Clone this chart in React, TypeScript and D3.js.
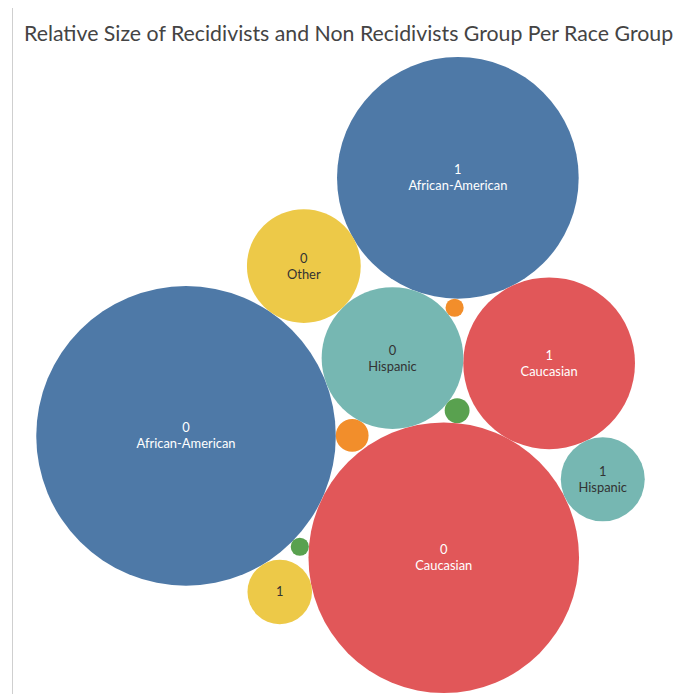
import React, { useMemo } from "react";
import * as d3 from "d3";

// Record counts per race, split by recidivism flag (0 = non recidivist, 1 = recidivist)
const races = ["African-American", "Asian", "Caucasian", "Hispanic", "Native American", "Other"];
const groups = ["0", "1"];
const nonRecidivistCounts = [2176, 26, 1775, 487, 15, 314];
const recidivistCounts = [1416, 8, 715, 171, 8, 101];

// Tableau 10 colours, assigned to races in alphabetical order
const raceColors = ["#4e79a7", "#f28e2b", "#e15759", "#76b7b2", "#59a14f", "#edc948"];
const raceLabelColors = ["#ffffff", "#ffffff", "#ffffff", "#333333", "#ffffff", "#333333"];

const TITLE = "Relative Size of Recidivists and Non Recidivists Group Per Race Group";

// Packing sequence: each bubble sits tangent to two bubbles placed before it,
// on the given side of the line joining them.
const packOrder: [string, string, string, number][] = [
  ["Hispanic|0", "African-American|0", "Caucasian|0", -1],
  ["Asian|0", "African-American|0", "Hispanic|0", 1],
  ["Caucasian|1", "Hispanic|0", "Caucasian|0", -1],
  ["African-American|1", "Hispanic|0", "Caucasian|1", -1],
  ["Other|0", "African-American|0", "Hispanic|0", -1],
  ["Hispanic|1", "Caucasian|1", "Caucasian|0", -1],
  ["Other|1", "African-American|0", "Caucasian|0", 1],
  ["Native American|0", "Hispanic|0", "Caucasian|0", -1],
  ["Asian|1", "Hispanic|0", "African-American|1", 1],
  ["Native American|1", "African-American|0", "Caucasian|0", 1],
];
const firstPair = ["African-American|0", "Caucasian|0"];
const firstPairAngle = 25.3; // degrees, clockwise from horizontal

const W = 681;
const H = 694;
const area = { left: 0, right: W, top: 57, bottom: 693 };

type Bubble = {
  key: string;
  race: string;
  raceIndex: number;
  group: string;
  value: number;
  r: number;
  x: number;
  y: number;
};

function placeTangent(a: Bubble, b: Bubble, r: number, side: number) {
  const dx = b.x - a.x;
  const dy = b.y - a.y;
  const d = Math.hypot(dx, dy);
  const da = a.r + r;
  const db = b.r + r;
  const t = (da * da - db * db + d * d) / (2 * d);
  const h = Math.sqrt(Math.max(0, da * da - t * t));
  const ux = dx / d;
  const uy = dy / d;
  return { x: a.x + t * ux - side * h * uy, y: a.y + t * uy + side * h * ux };
}

function useBubbles() {
  return useMemo(() => {
    const rows: Bubble[] = [];
    races.forEach((race, i) => {
      [nonRecidivistCounts[i], recidivistCounts[i]].forEach((value, g) => {
        rows.push({
          key: `${race}|${groups[g]}`,
          race,
          raceIndex: i,
          group: groups[g],
          value,
          r: 0,
          x: 0,
          y: 0,
        });
      });
    });
    const maxValue = d3.max(rows, (d) => d.value) as number;
    const unitR = d3.scaleSqrt().domain([0, maxValue]).range([0, 1]);
    rows.forEach((d) => (d.r = unitR(d.value)));
    const byKey = new Map(rows.map((d) => [d.key, d]));

    const a = byKey.get(firstPair[0])!;
    const b = byKey.get(firstPair[1])!;
    const ang = (firstPairAngle * Math.PI) / 180;
    a.x = 0;
    a.y = 0;
    b.x = (a.r + b.r) * Math.cos(ang);
    b.y = (a.r + b.r) * Math.sin(ang);
    packOrder.forEach(([k, ka, kb, side]) => {
      const c = byKey.get(k)!;
      const p = placeTangent(byKey.get(ka)!, byKey.get(kb)!, c.r, side);
      c.x = p.x;
      c.y = p.y;
    });

    // Fit the packed group into the drawing area
    const x0 = d3.min(rows, (d) => d.x - d.r) as number;
    const x1 = d3.max(rows, (d) => d.x + d.r) as number;
    const y0 = d3.min(rows, (d) => d.y - d.r) as number;
    const y1 = d3.max(rows, (d) => d.y + d.r) as number;
    const aw = area.right - area.left;
    const ah = area.bottom - area.top;
    const s = Math.min(aw / (x1 - x0), ah / (y1 - y0));
    const cx = (area.left + area.right) / 2 - ((x0 + x1) / 2) * s;
    const cy = (area.top + area.bottom) / 2 - ((y0 + y1) / 2) * s;
    rows.forEach((d) => {
      d.x = cx + d.x * s;
      d.y = cy + d.y * s;
      d.r = d.r * s;
    });
    return rows;
  }, []);
}

export default function App() {
  const bubbles = useBubbles();
  const font = "Lato, 'Open Sans', sans-serif";
  return (
    <svg
      width={W}
      height={H}
      viewBox={`0 0 ${W} ${H}`}
      style={{ position: "absolute", left: 0, top: 0, background: "#ffffff" }}
    >
      <line x1={12.5} x2={12.5} y1={8} y2={H} stroke="#cfcfcf" strokeWidth={1} />
      <text x={24} y={41} fontFamily={font} fontSize={21.3} fill="#444444">
        {TITLE}
      </text>
      {bubbles.map((d) => (
        <g key={d.key}>
          <circle cx={d.x} cy={d.y} r={d.r} fill={raceColors[d.raceIndex]} />
          {d.r >= 20 && (
            <text
              x={d.x}
              fontFamily={font}
              fontSize={12.9}
              fill={raceLabelColors[d.raceIndex]}
              textAnchor="middle"
            >
              {d.r >= 40 ? (
                <>
                  <tspan x={d.x} y={d.y - 3.5}>
                    {d.group}
                  </tspan>
                  <tspan x={d.x} y={d.y + 12.5}>
                    {d.race}
                  </tspan>
                </>
              ) : (
                <tspan x={d.x} y={d.y + 4.5}>
                  {d.group}
                </tspan>
              )}
            </text>
          )}
        </g>
      ))}
    </svg>
  );
}
